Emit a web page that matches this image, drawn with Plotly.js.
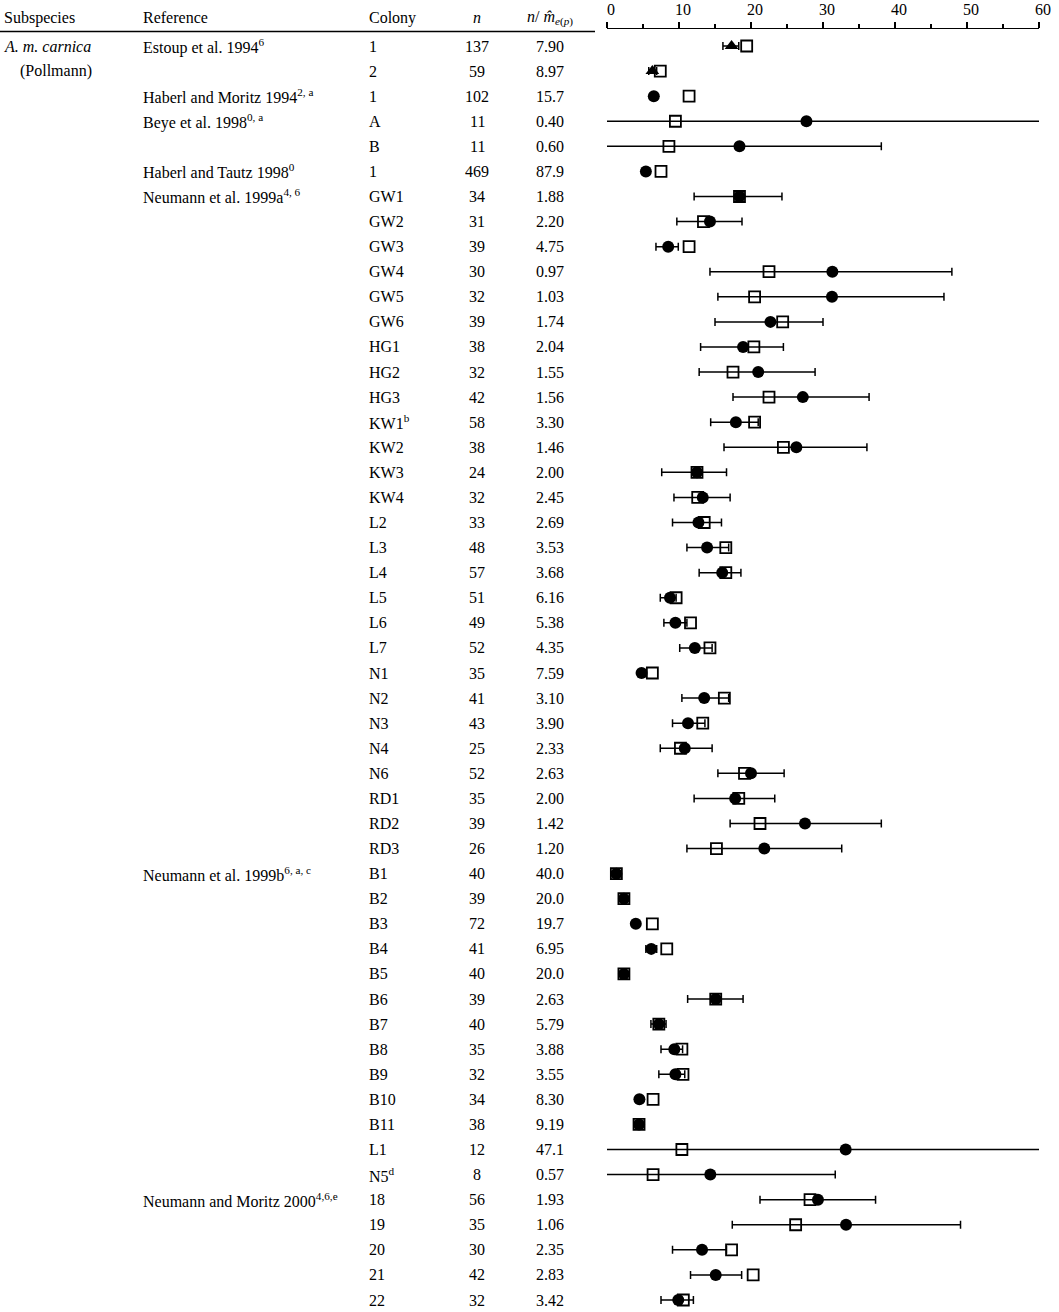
<!DOCTYPE html>
<html>
<head>
<meta charset="utf-8">
<script src="https://cdn.plot.ly/plotly-3.0.1.min.js"></script>
<style>html,body{margin:0;padding:0;background:#fff;}</style>
</head>
<body>
<div id="chart" style="width:1059px;height:1312px;"></div>
<script>
// ---- table columns ----
const subspeciesLabels = ['<i>A. m. carnica</i>', '(Pollmann)'];
const referenceRows = [0, 2, 3, 5, 6, 33, 46];
const referenceNames = [
  'Estoup et al. 1994<sup>6</sup>',
  'Haberl and Moritz 1994<sup>2, a</sup>',
  'Beye et al. 1998<sup>0, a</sup>',
  'Haberl and Tautz 1998<sup>0</sup>',
  'Neumann et al. 1999a<sup>4, 6</sup>',
  'Neumann et al. 1999b<sup>6, a, c</sup>',
  'Neumann and Moritz 2000<sup>4,6,e</sup>'
];
const colonies = ['1','2','1','A','B','1',
  'GW1','GW2','GW3','GW4','GW5','GW6','HG1','HG2','HG3',
  'KW1<sup>b</sup>','KW2','KW3','KW4','L2','L3','L4','L5','L6','L7',
  'N1','N2','N3','N4','N6','RD1','RD2','RD3',
  'B1','B2','B3','B4','B5','B6','B7','B8','B9','B10','B11','L1','N5<sup>d</sup>',
  '18','19','20','21','22'];
const nValues = [137,59,102,11,11,469,
  34,31,39,30,32,39,38,32,42,
  58,38,24,32,33,48,57,51,49,52,
  35,41,43,25,52,35,39,26,
  40,39,72,41,40,39,40,35,32,34,38,12,8,
  56,35,30,42,32];
const ratioValues = ['7.90','8.97','15.7','0.40','0.60','87.9',
  '1.88','2.20','4.75','0.97','1.03','1.74','2.04','1.55','1.56',
  '3.30','1.46','2.00','2.45','2.69','3.53','3.68','6.16','5.38','4.35',
  '7.59','3.10','3.90','2.33','2.63','2.00','1.42','1.20',
  '40.0','20.0','19.7','6.95','20.0','2.63','5.79','3.88','3.55','8.30','9.19','47.1','0.57',
  '1.93','1.06','2.35','2.83','3.42'];

// ---- plotted estimates ----
// filled marker: estimate with confidence interval (lower, upper); NaN = no interval
const estimate = [17.3,6.3,6.5,27.7,18.4,5.4,
  18.4,14.3,8.5,31.3,31.25,22.7,18.9,21.0,27.2,
  17.9,26.3,12.5,13.3,12.7,13.9,16.0,8.75,9.5,12.2,
  4.8,13.5,11.25,10.8,20.0,17.8,27.5,21.85,
  1.3,2.35,4.0,6.15,2.35,15.1,7.2,9.35,9.5,4.5,4.45,33.15,14.35,
  29.3,33.2,13.2,15.1,9.9];
const ciLower = [16.1,5.8,NaN,-4,-4,NaN,
  12.1,9.7,6.8,14.3,15.4,15.0,13.0,12.8,17.5,
  14.4,16.25,7.6,9.3,9.1,11.1,12.8,7.4,7.9,10.1,
  4.35,10.4,9.1,7.4,15.4,12.1,17.1,11.1,
  NaN,NaN,NaN,5.4,NaN,11.2,6.1,7.5,7.2,NaN,NaN,-4,-4,
  21.25,17.4,9.1,11.6,7.5];
const ciUpper = [18.3,6.9,NaN,64,38.1,NaN,
  24.3,18.75,9.9,47.9,46.8,30.0,24.5,28.9,36.4,
  21.0,36.1,16.6,17.1,15.9,16.9,18.6,9.6,11.1,14.6,
  5.3,16.9,13.6,14.6,24.6,23.3,38.1,32.6,
  NaN,NaN,NaN,6.9,NaN,18.9,8.2,10.5,10.8,NaN,NaN,64,31.7,
  37.3,49.1,16.6,18.7,12.0];
// open square: second estimate
const squareValue = [19.4,7.4,11.4,9.5,8.6,7.5,
  18.4,13.4,11.4,22.5,20.5,24.4,20.4,17.5,22.5,
  20.5,24.5,12.5,12.6,13.5,16.5,16.5,9.6,11.6,14.3,
  6.3,16.3,13.3,10.2,19.1,18.3,21.25,15.2,
  1.3,2.35,6.3,8.3,2.35,15.1,7.2,10.4,10.55,6.4,4.45,10.4,6.4,
  28.2,26.2,17.3,20.3,10.6];

// ---- page geometry (pixels) ----
const W = 1059, H = 1312;
const plotLeft = 607, plotRight = 1039, plotTop = 29;
const rowFirst = 46, rowStep = 25.08;
const plotH = H - plotTop;
const yTop = -(rowFirst - plotTop) / rowStep;
const yBottom = yTop + plotH / rowStep;
const px = p => (p - plotLeft) / (plotRight - plotLeft);     // pixel x -> paper x
const py = p => 1 - (p - plotTop) / plotH;                   // pixel y -> paper y

const FONT = 'Liberation Serif, Times New Roman, serif';
const rows = colonies.map((_, i) => i);
const symbols = rows.map(i => i < 2 ? 'triangle-up' : 'circle');

const squares = {
  type: 'scatter', mode: 'markers', x: squareValue, y: rows,
  marker: {symbol: 'square-open', size: 11, color: '#000', line: {width: 1.8, color: '#000'}},
  hoverinfo: 'x', showlegend: false
};
const filled = {
  type: 'scatter', mode: 'markers', x: estimate, y: rows,
  marker: {symbol: symbols, size: 12, color: '#000', line: {width: 0}},
  error_x: {
    type: 'data', symmetric: false,
    array: estimate.map((v, i) => ciUpper[i] - v),
    arrayminus: estimate.map((v, i) => v - ciLower[i]),
    color: '#000', thickness: 1.5, width: 4
  },
  hoverinfo: 'x', showlegend: false
};

const ann = [];
const txt = (x, y, text, anchor, yref) => ann.push({
  x: x, y: y, xref: 'paper', yref: yref, text: text, showarrow: false,
  xanchor: anchor, yanchor: 'middle', font: {family: FONT, size: 16, color: '#000'}
});

// header row
const headY = py(18);
txt(px(2), headY, 'Subspecies', 'left', 'paper');
txt(px(141), headY, 'Reference', 'left', 'paper');
txt(px(367), headY, 'Colony', 'left', 'paper');
txt(px(477), headY, '<i>n</i>', 'center', 'paper');
txt(px(550), headY, '<i>n</i>/ <i>m\u0302</i><sub><i>e</i>(<i>p</i>)</sub>', 'center', 'paper');

// body rows
txt(px(2), 0, subspeciesLabels[0], 'left', 'y');
txt(px(18), 1, subspeciesLabels[1], 'left', 'y');
referenceRows.forEach((r, k) => txt(px(141), r, referenceNames[k], 'left', 'y'));
rows.forEach(i => {
  txt(px(367), i, colonies[i], 'left', 'y');
  txt(px(477), i, String(nValues[i]), 'center', 'y');
  txt(px(550), i, ratioValues[i], 'center', 'y');
});

const layout = {
  width: W, height: H,
  margin: {l: plotLeft, r: W - plotRight, t: plotTop, b: 0, pad: 0},
  paper_bgcolor: '#fff', plot_bgcolor: '#fff',
  showlegend: false,
  xaxis: {
    side: 'top', range: [0, 60], tickmode: 'linear', tick0: 0, dtick: 10,
    ticks: 'outside', ticklen: 6, tickwidth: 1.5, tickcolor: '#000',
    showline: true, linewidth: 1.5, linecolor: '#000',
    showgrid: false, zeroline: false, fixedrange: true,
    tickfont: {family: FONT, size: 16, color: '#000'},
    ticklabelshift: 4,
    minor: {dtick: 5, ticks: 'outside', ticklen: 4, tickwidth: 1.5, tickcolor: '#000', showgrid: false}
  },
  yaxis: {range: [yBottom, yTop], visible: false, showgrid: false, zeroline: false, fixedrange: true},
  annotations: ann,
  shapes: [{
    type: 'line', xref: 'paper', yref: 'paper',
    x0: px(0), x1: px(595), y0: py(31.5), y1: py(31.5),
    line: {color: '#000', width: 1.3}
  }]
};

Plotly.newPlot('chart', [squares, filled], layout, {staticPlot: true, displayModeBar: false});
</script>
</body>
</html>
